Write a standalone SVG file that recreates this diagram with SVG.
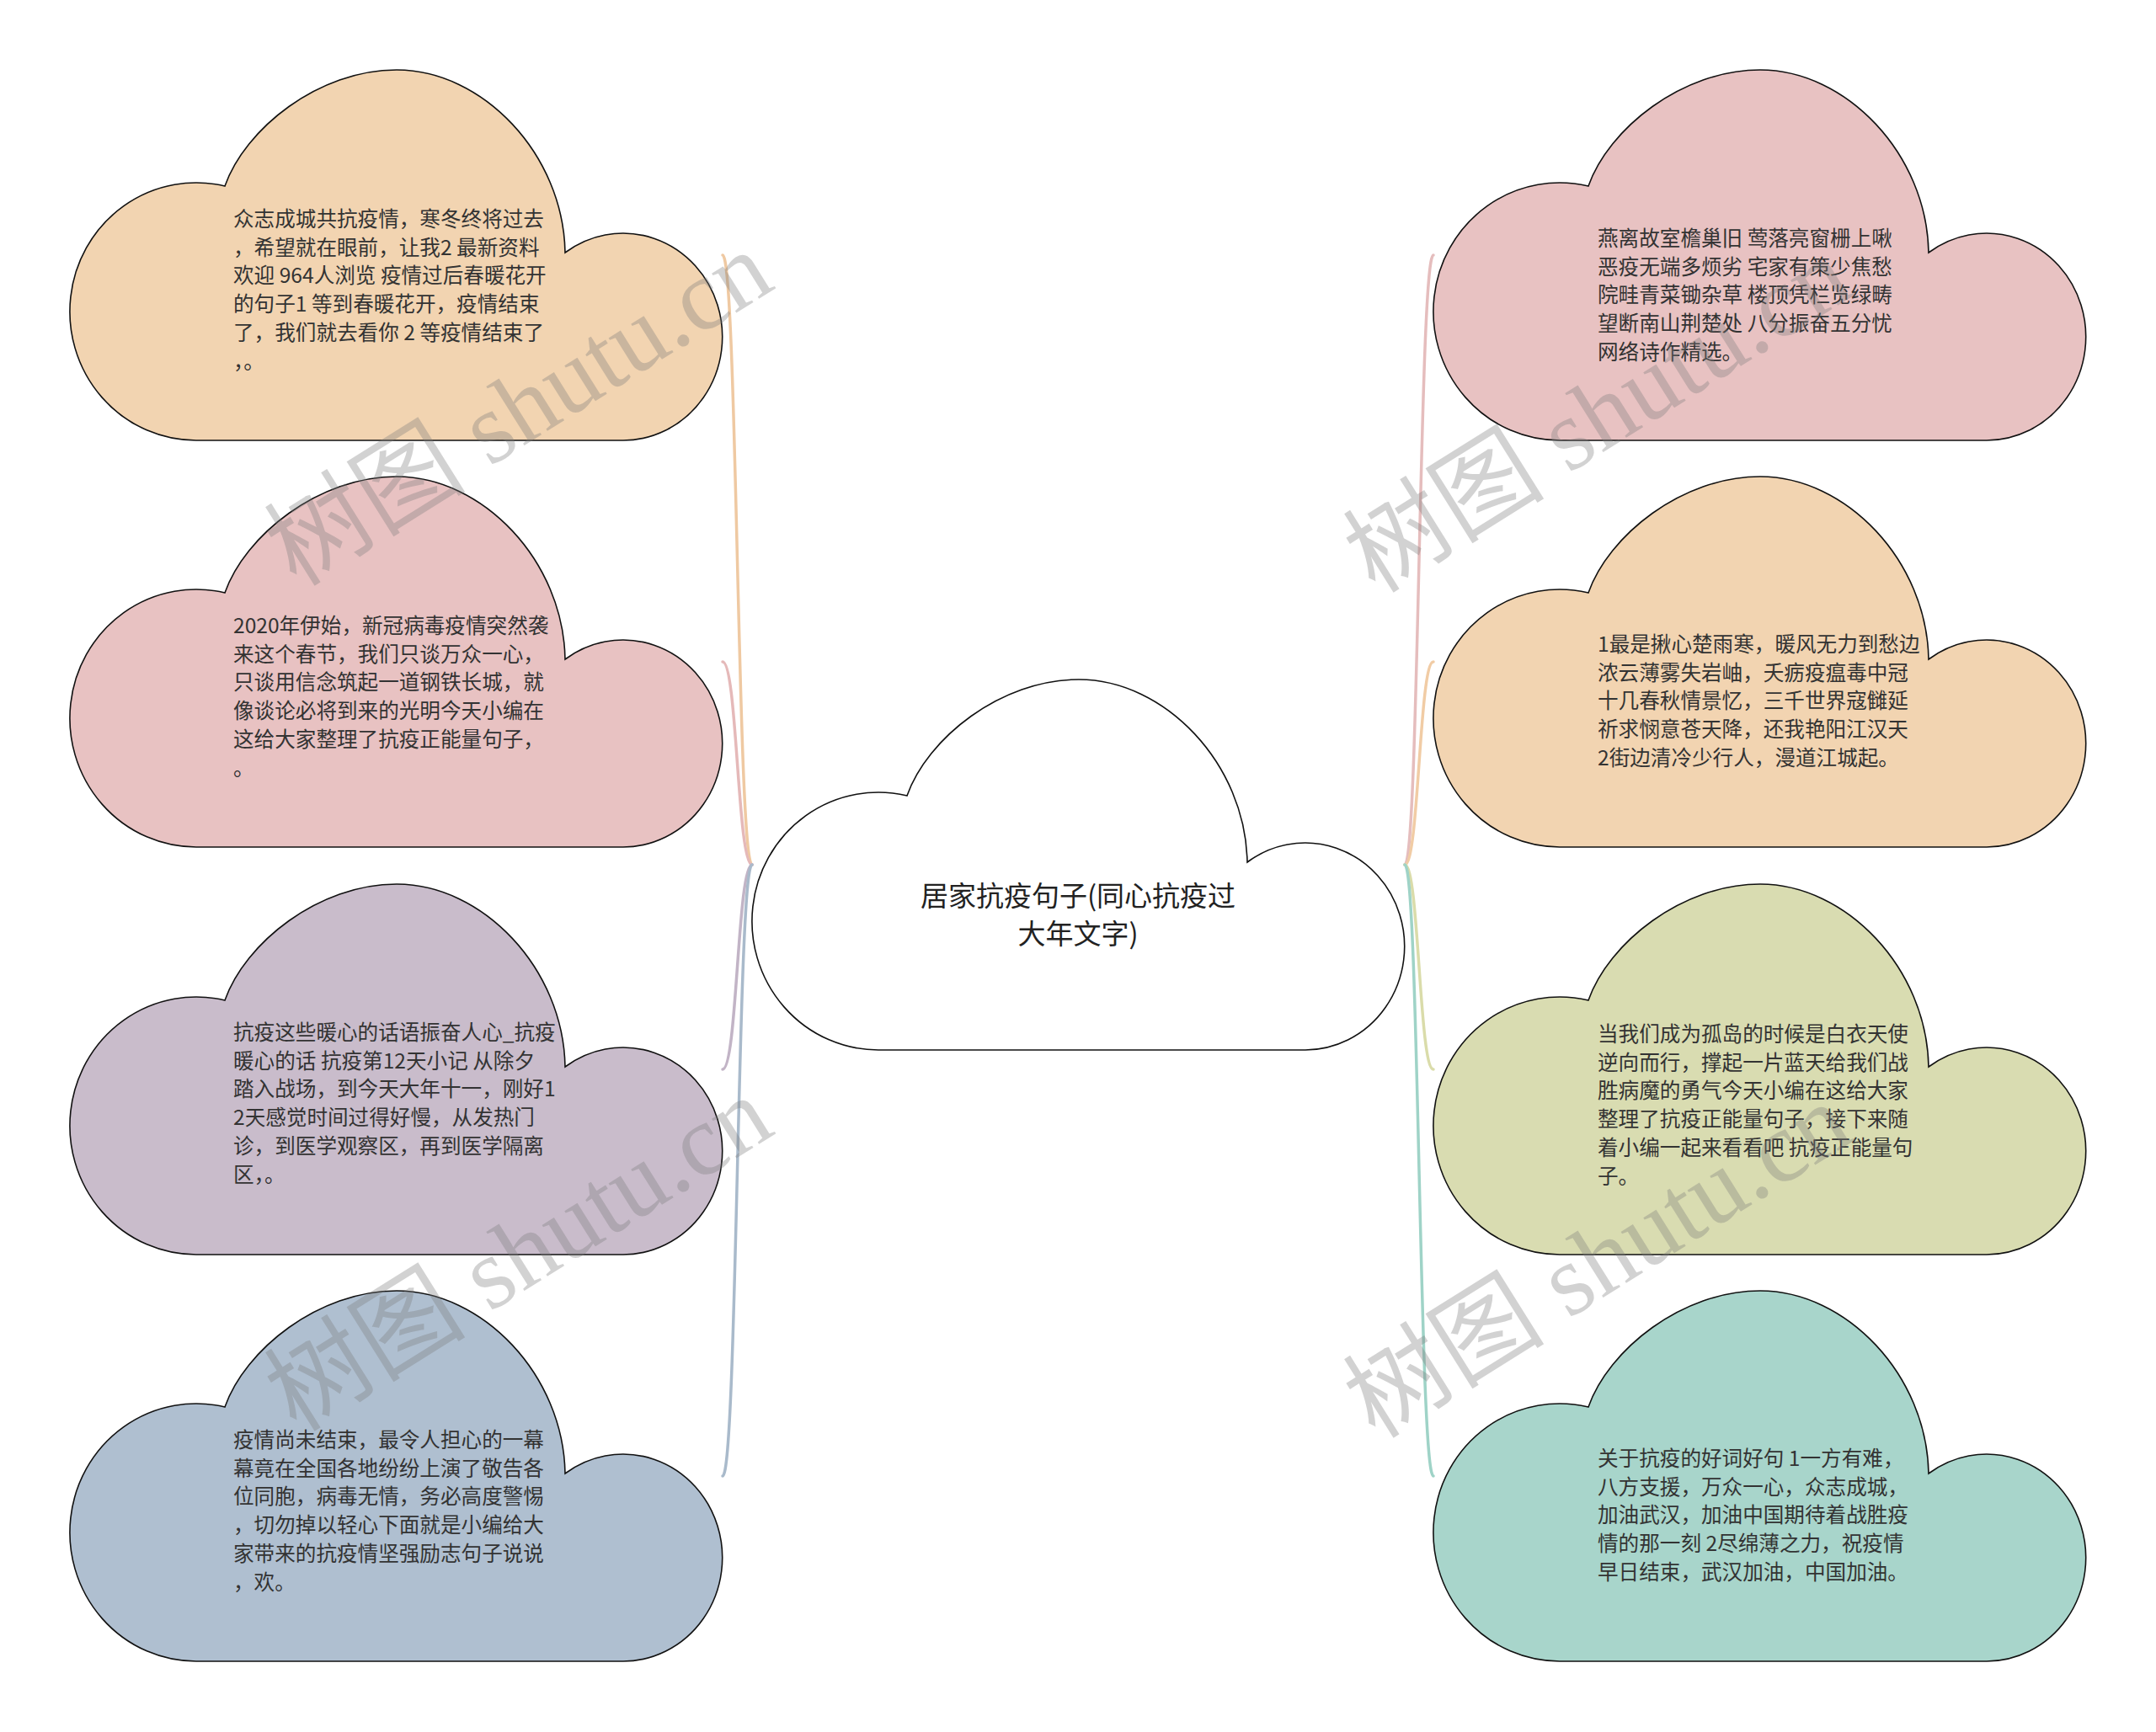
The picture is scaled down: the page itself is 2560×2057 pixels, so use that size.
<svg xmlns="http://www.w3.org/2000/svg" xmlns:xlink="http://www.w3.org/1999/xlink" width="2560" height="2057" viewBox="0 0 2560 2057">
<style>
.cloud{stroke:#111;stroke-width:1.6}
.t{font-family:"Noto Sans CJK SC","Noto Sans",sans-serif;font-size:24.6px;fill:#333}
.c{font-family:"Noto Sans CJK SC","Noto Sans",sans-serif;font-size:33px;fill:#222;text-anchor:middle}
.link{fill:none;stroke-width:3.5;stroke-linecap:round}
.wm{font-family:"Liberation Serif","Noto Sans CJK SC",serif;font-size:120px;fill:#7a7a7a;fill-opacity:0.34}
</style>
<defs>
<path id="cloud" d="M 150 440 A 150 153 0 1 1 184 138 C 208 70 295 0 388 0 C 490 0 586 100 588 217 A 118 123 0 1 1 657 440 Z"/>
</defs>
<rect width="2560" height="2057" fill="#fff"/>
<g id="connectors">
<path class="link" stroke="#EFC9A2" d="M 858 303 C 875.5 303 875.5 1027 893 1027"/>
<path class="link" stroke="#E5B9B9" d="M 858 786 C 875.5 786 875.5 1027 893 1027"/>
<path class="link" stroke="#C2B4C6" d="M 858 1270 C 875.5 1270 875.5 1027 893 1027"/>
<path class="link" stroke="#A9BACB" d="M 858 1753 C 875.5 1753 875.5 1027 893 1027"/>
<path class="link" stroke="#E5BDBD" d="M 1668 1027 C 1685 1027 1685 303 1702 303"/>
<path class="link" stroke="#F1CCA5" d="M 1668 1027 C 1685 1027 1685 786 1702 786"/>
<path class="link" stroke="#DADCAA" d="M 1668 1027 C 1685 1027 1685 1270 1702 1270"/>
<path class="link" stroke="#9FD3C7" d="M 1668 1027 C 1685 1027 1685 1753 1702 1753"/>
</g>
<g id="root">
<use xlink:href="#cloud" class="cloud" fill="#ffffff" transform="translate(893 807)"/>
<text class="c"><tspan x="1280" y="1076">居家抗疫句子(同心抗疫过</tspan><tspan x="1280" y="1121">大年文字)</tspan></text>
</g>
<g id="left1">
<use xlink:href="#cloud" class="cloud" fill="#F2D4B1" transform="translate(83 83)"/>
<text class="t"><tspan x="277" y="269">众志成城共抗疫情，寒冬终将过去</tspan><tspan x="277" dy="33.7">，希望就在眼前，让我2 最新资料</tspan><tspan x="277" dy="33.7">欢迎 964人浏览 疫情过后春暖花开</tspan><tspan x="277" dy="33.7">的句子1 等到春暖花开，疫情结束</tspan><tspan x="277" dy="33.7">了，我们就去看你 2 等疫情结束了</tspan><tspan x="277" dy="33.7">，。</tspan></text>
</g>
<g id="left2">
<use xlink:href="#cloud" class="cloud" fill="#E8C2C2" transform="translate(83 566)"/>
<text class="t"><tspan x="277" y="752">2020年伊始，新冠病毒疫情突然袭</tspan><tspan x="277" dy="33.7">来这个春节，我们只谈万众一心，</tspan><tspan x="277" dy="33.7">只谈用信念筑起一道钢铁长城，就</tspan><tspan x="277" dy="33.7">像谈论必将到来的光明今天小编在</tspan><tspan x="277" dy="33.7">这给大家整理了抗疫正能量句子，</tspan><tspan x="277" dy="33.7">。</tspan></text>
</g>
<g id="left3">
<use xlink:href="#cloud" class="cloud" fill="#C9BCCB" transform="translate(83 1050)"/>
<text class="t"><tspan x="277" y="1235">抗疫这些暖心的话语振奋人心_抗疫</tspan><tspan x="277" dy="33.7">暖心的话 抗疫第12天小记 从除夕</tspan><tspan x="277" dy="33.7">踏入战场，到今天大年十一，刚好1</tspan><tspan x="277" dy="33.7">2天感觉时间过得好慢，从发热门</tspan><tspan x="277" dy="33.7">诊，到医学观察区，再到医学隔离</tspan><tspan x="277" dy="33.7">区，。</tspan></text>
</g>
<g id="left4">
<use xlink:href="#cloud" class="cloud" fill="#AFBFD0" transform="translate(83 1533)"/>
<text class="t"><tspan x="277" y="1719">疫情尚未结束，最令人担心的一幕</tspan><tspan x="277" dy="33.7">幕竟在全国各地纷纷上演了敬告各</tspan><tspan x="277" dy="33.7">位同胞，病毒无情，务必高度警惕</tspan><tspan x="277" dy="33.7">，切勿掉以轻心下面就是小编给大</tspan><tspan x="277" dy="33.7">家带来的抗疫情坚强励志句子说说</tspan><tspan x="277" dy="33.7">，欢。</tspan></text>
</g>
<g id="right1">
<use xlink:href="#cloud" class="cloud" fill="#E8C2C2" transform="translate(1702 83)"/>
<text class="t"><tspan x="1897" y="292">燕离故室檐巢旧 莺落亮窗栅上啾</tspan><tspan x="1897" dy="33.7">恶疫无端多烦劣 宅家有策少焦愁</tspan><tspan x="1897" dy="33.7">院畦青菜锄杂草 楼顶凭栏览绿畴</tspan><tspan x="1897" dy="33.7">望断南山荆楚处 八分振奋五分忧</tspan><tspan x="1897" dy="33.7">网络诗作精选。</tspan></text>
</g>
<g id="right2">
<use xlink:href="#cloud" class="cloud" fill="#F2D4B1" transform="translate(1702 566)"/>
<text class="t"><tspan x="1897" y="774">1最是揪心楚雨寒，暖风无力到愁边</tspan><tspan x="1897" dy="33.7">浓云薄雾失岩岫，夭疬疫瘟毒中冠</tspan><tspan x="1897" dy="33.7">十几春秋情景忆，三千世界寇雠延</tspan><tspan x="1897" dy="33.7">祈求悯意苍天降，还我艳阳江汉天</tspan><tspan x="1897" dy="33.7">2街边清冷少行人，漫道江城起。</tspan></text>
</g>
<g id="right3">
<use xlink:href="#cloud" class="cloud" fill="#D9DCB1" transform="translate(1702 1050)"/>
<text class="t"><tspan x="1897" y="1237">当我们成为孤岛的时候是白衣天使</tspan><tspan x="1897" dy="33.7">逆向而行，撑起一片蓝天给我们战</tspan><tspan x="1897" dy="33.7">胜病魔的勇气今天小编在这给大家</tspan><tspan x="1897" dy="33.7">整理了抗疫正能量句子，接下来随</tspan><tspan x="1897" dy="33.7">着小编一起来看看吧 抗疫正能量句</tspan><tspan x="1897" dy="33.7">子。</tspan></text>
</g>
<g id="right4">
<use xlink:href="#cloud" class="cloud" fill="#A8D5CB" transform="translate(1702 1533)"/>
<text class="t"><tspan x="1897" y="1741">关于抗疫的好词好句 1一方有难，</tspan><tspan x="1897" dy="33.7">八方支援，万众一心，众志成城，</tspan><tspan x="1897" dy="33.7">加油武汉，加油中国期待着战胜疫</tspan><tspan x="1897" dy="33.7">情的那一刻 2尽绵薄之力，祝疫情</tspan><tspan x="1897" dy="33.7">早日结束，武汉加油，中国加油。</tspan></text>
</g>
<g id="watermarks">
<text class="wm" transform="translate(352 698) rotate(-32)">树图 shutu.cn</text>
<text class="wm" transform="translate(352 1702) rotate(-32)">树图 shutu.cn</text>
<text class="wm" transform="translate(1633 706) rotate(-32)">树图 shutu.cn</text>
<text class="wm" transform="translate(1633 1710) rotate(-32)">树图 shutu.cn</text>
</g>
</svg>
